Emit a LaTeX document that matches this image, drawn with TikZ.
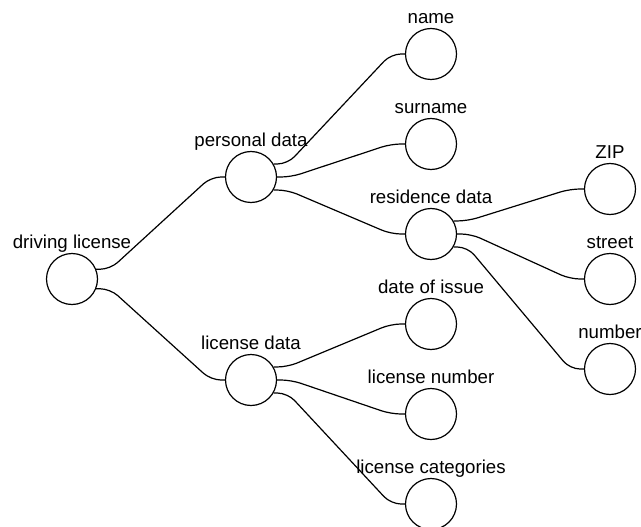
\documentclass[tikz,border=0pt]{standalone}
\usepackage{fontspec}
\setmainfont{Liberation Sans}
\usetikzlibrary{calc}
\begin{document}
\begin{tikzpicture}[x=0.75pt,y=-0.75pt,
  leaf/.style={circle,draw,fill=white,minimum size=38.25pt,inner sep=0pt,line width=0.9pt},
  lab/.style={label={[anchor=base,label distance=3.4pt,inner sep=0pt,font=\fontsize{14}{16}\selectfont]above:#1}},
  link/.style={line width=0.9pt,rounded corners=7.5pt}]
\useasboundingbox (0,0) rectangle (641,527);
\node[leaf,lab={driving license}] (root) at (72,279) {};
\node[leaf,lab={personal data}] (pd) at (251,177) {};
\node[leaf,lab={license data}] (ld) at (251,380) {};
\node[leaf,lab={name}] (name) at (431,54) {};
\node[leaf,lab={surname}] (surname) at (431,144) {};
\node[leaf,lab={residence data}] (res) at (431,234) {};
\node[leaf,lab={date of issue}] (doi) at (431,324) {};
\node[leaf,lab={license number}] (lnum) at (431,414) {};
\node[leaf,lab={license categories}] (lcat) at (431,504) {};
\node[leaf,lab={ZIP}] (zip) at (610,189) {};
\node[leaf,lab={street}] (street) at (610,279) {};
\node[leaf,lab={number}] (number) at (610,369) {};
\draw[link] (root.22) -- ++(14,0) -- ($(pd.west)+(-14,0)$) -- (pd.west);
\draw[link] (root.-22) -- ++(14,0) -- ($(ld.west)+(-14,0)$) -- (ld.west);
\draw[link] (pd.30) -- ++(14,0) -- ($(name.west)+(-14,0)$) -- (name.west);
\draw[link] (pd.east) -- ++(14,0) -- ($(surname.west)+(-14,0)$) -- (surname.west);
\draw[link] (pd.-30) -- ++(14,0) -- ($(res.west)+(-14,0)$) -- (res.west);
\draw[link] (ld.30) -- ++(14,0) -- ($(doi.west)+(-14,0)$) -- (doi.west);
\draw[link] (ld.east) -- ++(14,0) -- ($(lnum.west)+(-14,0)$) -- (lnum.west);
\draw[link] (ld.-30) -- ++(14,0) -- ($(lcat.west)+(-14,0)$) -- (lcat.west);
\draw[link] (res.30) -- ++(14,0) -- ($(zip.west)+(-14,0)$) -- (zip.west);
\draw[link] (res.east) -- ++(14,0) -- ($(street.west)+(-14,0)$) -- (street.west);
\draw[link] (res.-30) -- ++(14,0) -- ($(number.west)+(-14,0)$) -- (number.west);
\end{tikzpicture}
\end{document}
